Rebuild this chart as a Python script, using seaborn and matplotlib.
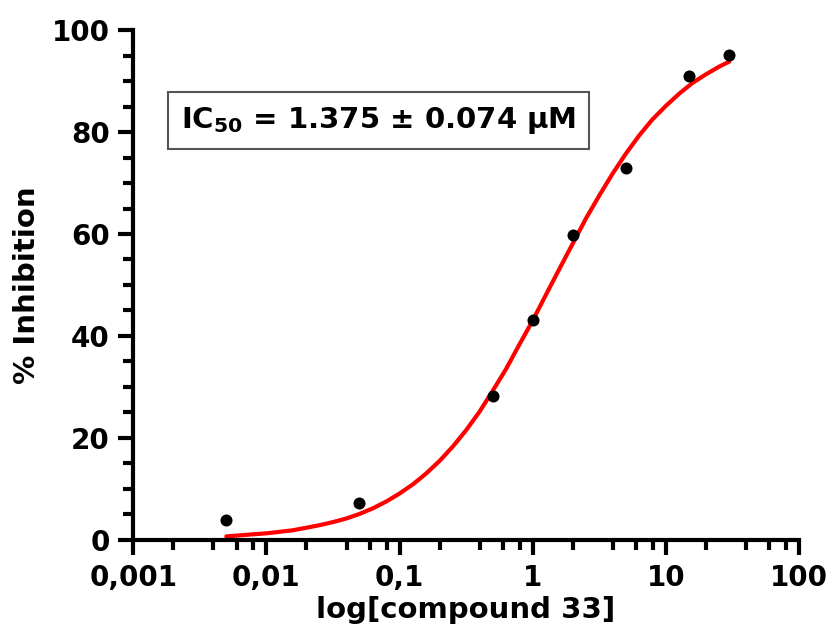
import matplotlib
matplotlib.use('Agg')
import matplotlib.pyplot as plt
import matplotlib.ticker as mticker
import seaborn as sns
import pandas as pd

# measured points (concentration in uM, % inhibition)
conc = [0.005, 0.05, 0.5, 1, 2, 5, 15, 30]
inhib = [4.0, 7.3, 28.3, 43.2, 59.8, 73.0, 91.0, 95.1]

# fitted curve
fit_conc = [0.005, 0.0063, 0.0079, 0.01, 0.0126, 0.0158, 0.02, 0.0251, 0.0316,
            0.0398, 0.05, 0.063, 0.079, 0.1, 0.126, 0.158, 0.2, 0.251, 0.316,
            0.398, 0.5, 0.631, 0.79, 1, 1.26, 1.585, 2, 2.51, 3.16, 3.98,
            5, 6.31, 7.9, 10, 12.6, 15.85, 20, 25.1, 30]
fit_inhib = [0.7, 0.9, 1.1, 1.3, 1.6, 1.9, 2.4, 2.9, 3.5,
             4.2, 5.1, 6.2, 7.5, 9.1, 10.9, 13.0, 15.5, 18.3, 21.5,
             25.1, 29.2, 33.5, 38.2, 43.0, 48.1, 53.1, 58.1, 63.0, 67.5, 71.8,
             75.7, 79.3, 82.4, 85.1, 87.5, 89.6, 91.3, 92.8, 93.8]

x_ticks = [0.001, 0.01, 0.1, 1, 10, 100]
x_ticklabels = ['0,001', '0,01', '0,1', '1', '10', '100']
y_ticks = [0, 20, 40, 60, 80, 100]

df = pd.DataFrame({'conc': conc, 'inhib': inhib})
fit = pd.DataFrame({'conc': fit_conc, 'inhib': fit_inhib})

sns.set_style('ticks')
plt.rcParams['font.family'] = ['DejaVu Sans']
plt.rcParams['text.color'] = 'black'
plt.rcParams['axes.labelcolor'] = 'black'
plt.rcParams['xtick.color'] = 'black'
plt.rcParams['ytick.color'] = 'black'
plt.rcParams['mathtext.default'] = 'regular'

fig = plt.figure(figsize=(8.33, 6.39), dpi=100)
ax = fig.add_axes([0.160, 0.155, 0.799, 0.798])

sns.lineplot(data=fit, x='conc', y='inhib', color='#ff0000', linewidth=3, ax=ax)
sns.scatterplot(data=df, x='conc', y='inhib', color='black', s=75,
                edgecolor='black', linewidth=0, zorder=3, ax=ax)

ax.set_xscale('log')
ax.set_xlim(0.001, 100)
ax.set_ylim(0, 100)
ax.set_xticks(x_ticks)
ax.set_xticklabels(x_ticklabels)
ax.xaxis.set_minor_locator(mticker.LogLocator(base=10, subs=[2, 4, 6, 8]))
ax.xaxis.set_minor_formatter(mticker.NullFormatter())
ax.set_yticks(y_ticks)
ax.yaxis.set_minor_locator(mticker.MultipleLocator(5))

for side in ['top', 'right']:
    ax.spines[side].set_visible(False)
for side in ['left', 'bottom']:
    ax.spines[side].set_linewidth(3)
    ax.spines[side].set_color('black')

ax.tick_params(which='major', length=11, width=3, labelsize=20, pad=6)
ax.tick_params(which='minor', length=7, width=3)
for lab in ax.get_xticklabels() + ax.get_yticklabels():
    lab.set_fontweight('bold')

ax.set_xlabel('log[compound 33]', fontsize=21, fontweight='bold', labelpad=3)
ax.set_ylabel('% Inhibition', fontsize=21, fontweight='bold', labelpad=8)

ax.text(0.368, 0.822, r'IC$_{50}$ = 1.375 ± 0.074 μM', transform=ax.transAxes,
        ha='center', va='center', fontsize=21, fontweight='bold',
        bbox=dict(boxstyle='square,pad=0.45', facecolor='white',
                  edgecolor='#555555', linewidth=1.5))

fig.savefig('out.png', dpi=100)
